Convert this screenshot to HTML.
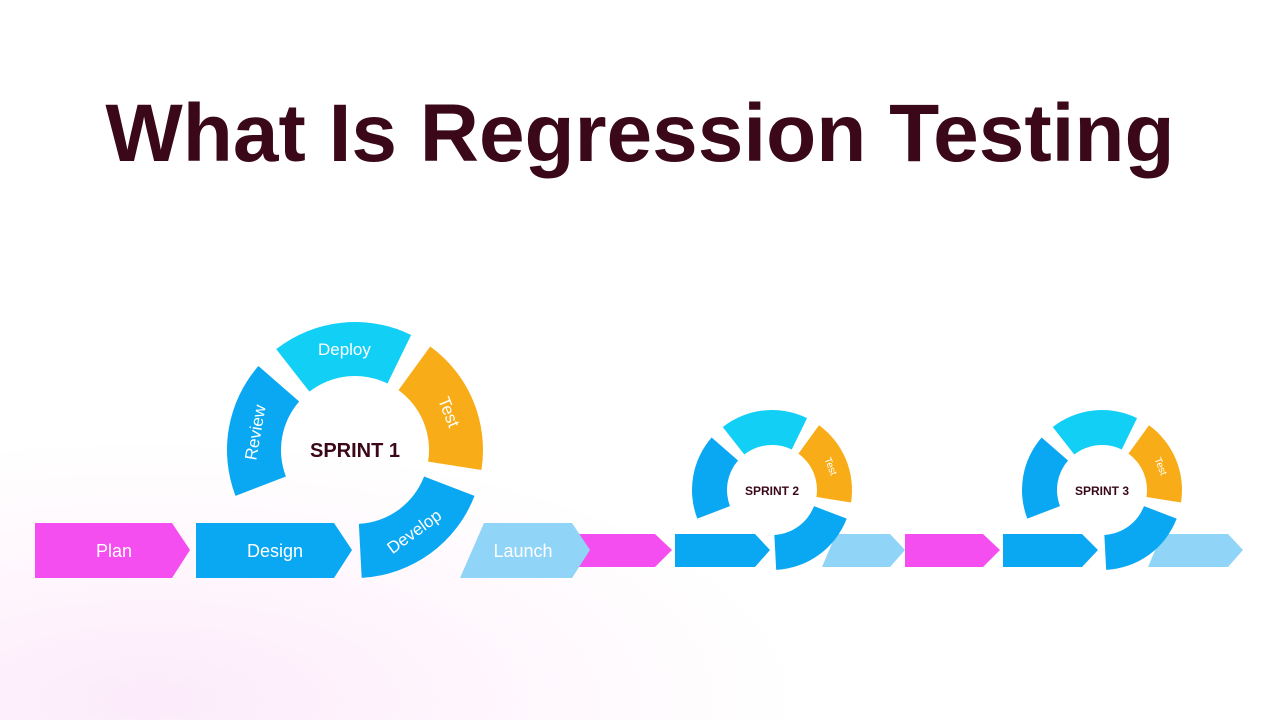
<!DOCTYPE html>
<html><head><meta charset="utf-8"><style>
html,body{margin:0;padding:0}
body{width:1280px;height:720px;overflow:hidden;background:radial-gradient(ellipse 650px 260px at 150px 700px,#fcebfb 0%,#fff7fd 55%,#ffffff 100%);font-family:"Liberation Sans",sans-serif}
h1{position:absolute;left:0;top:84px;width:1280px;margin:0;text-align:center;font-size:82px;font-weight:bold;color:#3a0818;letter-spacing:0;line-height:100px}
svg{position:absolute;left:0;top:0}
</style></head><body>
<h1>What Is Regression Testing</h1>
<svg id="s" width="1280" height="720" xmlns="http://www.w3.org/2000/svg" font-family="Liberation Sans, sans-serif">
<polygon points="35,523 172,523 190,550 172,578 35,578" fill="#f54ef0"/>
<polygon points="196,523 334,523 352,550 334,578 196,578" fill="#0aa8f2"/>
<polygon points="575,534 655,534 672,550 655,567 575,567" fill="#f54ef0"/>
<polygon points="484,523 572,523 590,550 572,578 460,578" fill="#90d4f8"/>
<polygon points="675,534 755,534 770,550 755,567 675,567" fill="#0aa8f2"/>
<polygon points="905,534 983,534 1000,550 983,567 905,567" fill="#f54ef0"/>
<polygon points="836,534 890,534 905,550 890,567 822,567" fill="#90d4f8"/>
<polygon points="1003,534 1082,534 1098,550 1082,567 1003,567" fill="#0aa8f2"/>
<polygon points="1162,534 1228,534 1243,550 1228,567 1148,567" fill="#90d4f8"/>
<g fill="#fff" font-size="18" text-anchor="middle">
<text x="114" y="557">Plan</text>
<text x="275" y="557">Design</text>
<text x="523" y="557">Launch</text>
</g>
<g id="rings"></g>
<g fill="#3a0818" font-weight="bold" text-anchor="middle">
<text x="355" y="457" font-size="20">SPRINT 1</text>
<text x="772" y="495" font-size="12">SPRINT 2</text>
<text x="1102" y="495" font-size="12">SPRINT 3</text>
</g>
</svg>
<script>
var g=document.getElementById('rings'),NS='http://www.w3.org/2000/svg';
function P(cx,cy,r,a){a=a*Math.PI/180;return [cx+r*Math.cos(a),cy+r*Math.sin(a)];}
function seg(cx,cy,ri,ro,a1,a2,col){
 var p1=P(cx,cy,ro,a1),p2=P(cx,cy,ro,a2),p3=P(cx,cy,ri,a2),p4=P(cx,cy,ri,a1);
 var d='M'+p1+' A'+ro+','+ro+' 0 0 1 '+p2+' L'+p3+' A'+ri+','+ri+' 0 0 0 '+p4+'Z';
 var e=document.createElementNS(NS,'path');e.setAttribute('d',d);e.setAttribute('fill',col);g.appendChild(e);}
function lab(cx,cy,r,a,rot,t,fs){
 var p=P(cx,cy,r,a),e=document.createElementNS(NS,'text');
 e.setAttribute('x',p[0]);e.setAttribute('y',p[1]);e.setAttribute('fill','#fff');e.setAttribute('font-size',fs);
 e.setAttribute('text-anchor','middle');e.setAttribute('dominant-baseline','central');
 e.setAttribute('transform','rotate('+rot+' '+p[0]+' '+p[1]+')');e.textContent=t;g.appendChild(e);}
function ring(cx,cy,ri,ro,lbl){
 seg(cx,cy,ri,ro,-128,-64,'#12cff5');
 seg(cx,cy,ri,ro,-54,9,'#f8ad18');
 seg(cx,cy,ri,ro,21,87,'#0aa8f2');
 seg(cx,cy,ri,ro,159,221,'#0aa8f2');
 var rm=(ri+ro)/2;
 if(lbl){lab(cx,cy,rm,-96,0,'Deploy',17);lab(cx,cy,rm,-22,68,'Test',17);lab(cx,cy,rm,54,-36,'Develop',17);lab(cx,cy,rm,190,-80,'Review',17);}
 else lab(cx,cy,rm,-22,68,'Test',10);
}
ring(355,450,74,128,true);
ring(772,490,45,80,false);
ring(1102,490,45,80,false);
</script>
</body></html>
